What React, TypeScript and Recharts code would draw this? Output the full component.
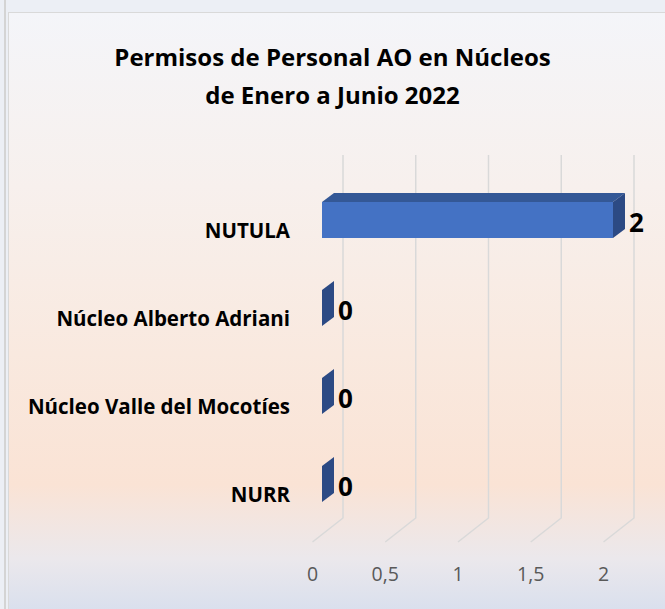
import React from 'react';
import { BarChart, Bar, XAxis, YAxis, CartesianGrid, LabelList } from 'recharts';

const categories = ['NUTULA', 'Núcleo Alberto Adriani', 'Núcleo Valle del Mocotíes', 'NURR'];
const permisos = [2, 0, 0, 0];
const xTicks = [0, 0.5, 1, 1.5, 2];

const data = categories.map((nucleo, i) => ({ nucleo, permisos: permisos[i] }));

const FONT = '"Open Sans", "Noto Sans", sans-serif';
const DX = 12; // depth of the 3D bars
const DY = 9;
const SHIFT_X = 9.5; // front face offset from the floor ticks
const SHIFT_Y = -10;

const Bar3D = (props: any) => {
  const { x, y, width, height } = props;
  const fx = x + SHIFT_X;
  const fy = y + SHIFT_Y;
  const w = Math.max(width, 0);
  const h = height;
  return (
    <g>
      {w > 0 && <rect x={fx} y={fy} width={w} height={h} fill="#4472c4" />}
      {w > 0 && (
        <polygon
          points={`${fx},${fy} ${fx + DX},${fy - DY} ${fx + w + DX},${fy - DY} ${fx + w},${fy}`}
          fill="#345896"
        />
      )}
      <polygon
        points={`${fx + w},${fy} ${fx + w + DX},${fy - DY} ${fx + w + DX},${fy + h - DY} ${fx + w},${fy + h}`}
        fill="#2c4a84"
      />
    </g>
  );
};

const gridLine = (props: any) => {
  const { x1, y1, y2, index } = props;
  const bx = x1 + 30.5;
  return (
    <path
      key={`g-${index}`}
      d={`M${bx},${y1 - 31} L${bx},${y2 - 20} L${x1},${y2 + 4}`}
      stroke="#d9d9d9"
      strokeWidth={1.5}
      fill="none"
    />
  );
};

const ValueLabel = (props: any) => {
  const { x, y, width, height, value } = props;
  const fx = x + SHIFT_X + Math.max(width, 0);
  const cy = y + SHIFT_Y + height / 2 + 2;
  return (
    <text x={fx + 16} y={cy} dominantBaseline="central" fontFamily={FONT} fontWeight={700} fontSize={26} fill="#000">
      {value}
    </text>
  );
};

const CategoryTick = (props: any) => {
  const { y, payload } = props;
  return (
    <text x={290} y={y} textAnchor="end" dominantBaseline="central" fontFamily={FONT} fontWeight={700} fontSize={20.5} fill="#000">
      {payload.value}
    </text>
  );
};

const ValueTick = (props: any) => {
  const { x, payload } = props;
  return (
    <text x={x} y={573} textAnchor="middle" dominantBaseline="central" fontFamily={FONT} fontSize={19.5} fill="#595959">
      {String(payload.value).replace('.', ',')}
    </text>
  );
};

export default function App() {
  return (
    <div
      style={{
        position: 'absolute',
        left: 0,
        top: 0,
        width: 665,
        height: 609,
        overflow: 'hidden',
        background: '#eceff5',
      }}
    >
      <div style={{ position: 'absolute', left: 4, top: 0, width: 1.5, height: 609, background: '#d4d4d4' }} />
      <div
        style={{
          position: 'absolute',
          left: 8,
          top: 12,
          width: 700,
          height: 620,
          border: '1px solid #d9d9d9',
          background:
            'linear-gradient(180deg, #f4f5f9 0%, #f7f0ed 28%, #f9e9df 55%, #fae3d5 76%, #ebe8ec 88%, #d2dcee 100%)',
        }}
      />
      <div
        style={{
          position: 'absolute',
          left: 0,
          top: 38,
          width: 665,
          textAlign: 'center',
          fontFamily: FONT,
          fontWeight: 700,
          fontSize: 24,
          lineHeight: '38px',
          color: '#000',
        }}
      >
        Permisos de Personal AO en Núcleos
        <br />
        de Enero a Junio 2022
      </div>
      <div style={{ position: 'absolute', left: 0, top: 0 }}>
        <BarChart
          width={665}
          height={609}
          data={data}
          layout="vertical"
          margin={{ top: 186, right: 61.5, bottom: 31, left: 0 }}
          barSize={36}
        >
          <CartesianGrid horizontal={false} vertical={gridLine} />
          <XAxis
            type="number"
            domain={[0, 2]}
            ticks={xTicks}
            axisLine={false}
            tickLine={false}
            height={40}
            tick={<ValueTick />}
          />
          <YAxis
            type="category"
            dataKey="nucleo"
            width={312.5}
            axisLine={false}
            tickLine={false}
            tick={<CategoryTick />}
          />
          <Bar dataKey="permisos" shape={<Bar3D />} isAnimationActive={false}>
            <LabelList dataKey="permisos" content={<ValueLabel />} />
          </Bar>
        </BarChart>
      </div>
    </div>
  );
}
